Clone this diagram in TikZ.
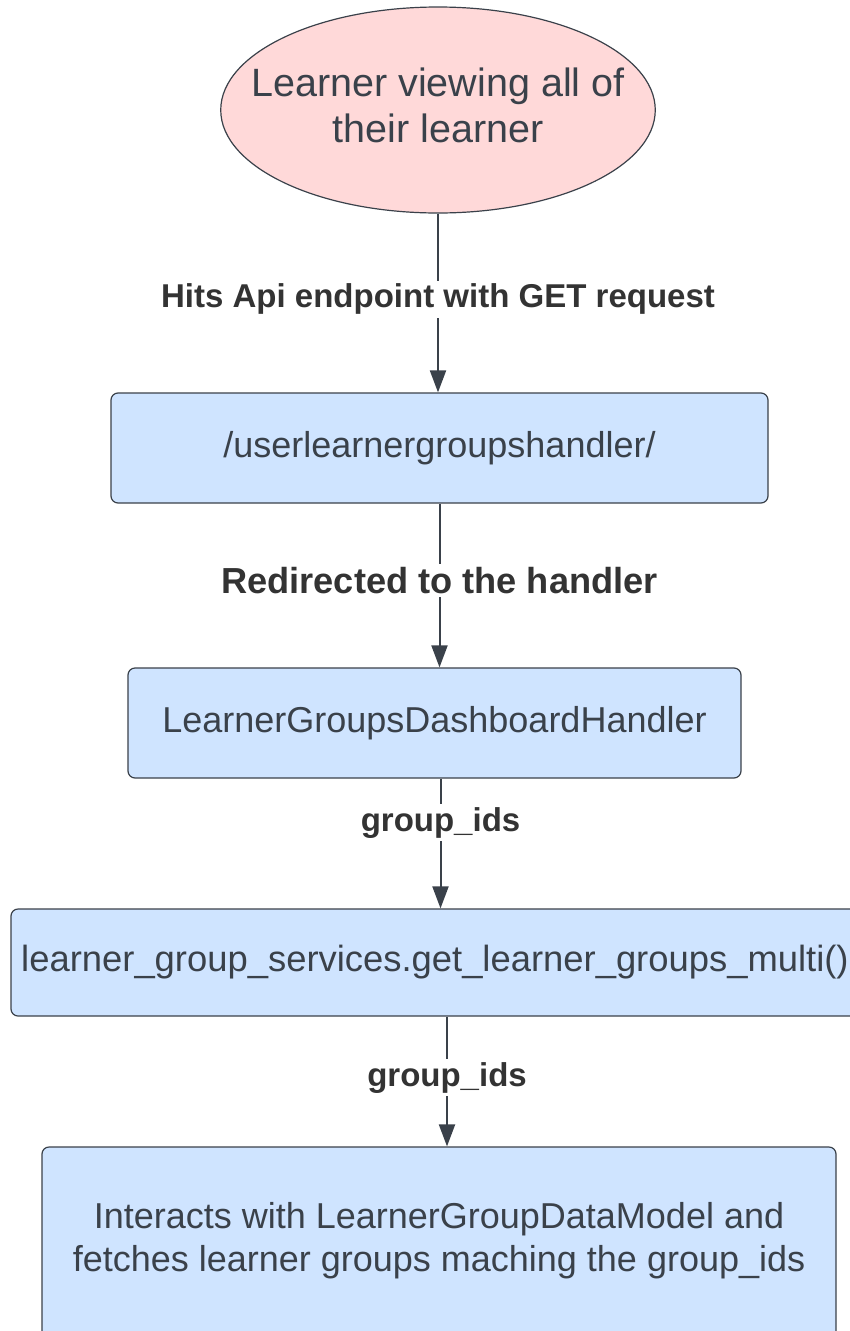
\documentclass[tikz,border=0pt]{standalone}
\usepackage{fontspec}
\setmainfont{Liberation Sans}
\usepackage{xcolor}
\usetikzlibrary{shapes.geometric,arrows.meta,positioning}

\definecolor{ink}{RGB}{58,65,74}
\definecolor{labelink}{RGB}{51,51,51}
\definecolor{boxblue}{RGB}{207,228,255}
\definecolor{startpink}{RGB}{255,217,217}

\begin{document}
\begin{tikzpicture}[x=1pt,y=-1pt,
  stepbox/.style={draw=ink, line width=1.2pt, fill=boxblue, rounded corners=7pt,
    text=ink, align=center, inner sep=0pt, font=\fontsize{36}{43}\selectfont},
  arr/.style={draw=ink, line width=2pt, -{Triangle[length=22pt,width=16pt]}},
  lbl/.style={fill=white, text=labelink, inner sep=3pt, font=\fontsize{33}{40}\selectfont\bfseries}]
  % Frame
  \useasboundingbox (0,0) rectangle (850,1331);
  \clip (0,0) rectangle (850,1331);

  % Start
  \node[ellipse, draw=ink, line width=1.2pt, fill=startpink, text=ink, align=center,
    minimum width=434pt, minimum height=206pt, inner xsep=-33pt, inner ysep=0pt,
    font=\fontsize{39.5}{46}\selectfont] (start) at (438,110)
    {Learner viewing all of\\their learner\\[-36pt]};

  % Steps
  \node[stepbox, minimum width=657pt, minimum height=110pt] (route) at (439.5,448)
    {/userlearnergroupshandler/};
  \node[stepbox, minimum width=613pt, minimum height=110pt] (handler) at (434.5,723)
    {LearnerGroupsDashboardHandler};
  \node[stepbox, minimum width=848pt, minimum height=107pt,
    font=\fontsize{36.4}{43}\selectfont] (service) at (435,962.5)
    {learner\_group\_services.get\_learner\_groups\_multi()};
  \node[stepbox, minimum width=794pt, minimum height=200pt] (model) at (439,1247)
    {Interacts with LearnerGroupDataModel and\\fetches learner groups maching the group\_ids\\[-22pt]};

  % Connectors
  \draw[arr] (start.south) -- (start.south |- route.north)
    node[lbl, pos=0.48] {Hits Api endpoint with GET request};
  \draw[arr] (route.south) -- (route.south |- handler.north)
    node[lbl, pos=0.47, font=\fontsize{36.2}{43}\selectfont\bfseries] {Redirected to the handler};
  \draw[arr] ([xshift=6pt]handler.south) -- ([xshift=6pt]handler.south |- service.north)
    node[lbl, pos=0.34] {group\_ids};
  \draw[arr] ([xshift=12pt]service.south) -- ([xshift=12pt]service.south |- model.north)
    node[lbl, pos=0.47] {group\_ids};
\end{tikzpicture}
\end{document}
